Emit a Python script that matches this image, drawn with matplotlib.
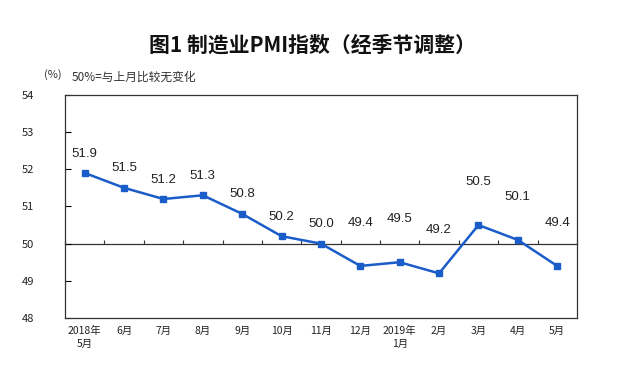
import matplotlib.pyplot as plt
import numpy as np

plt.rcParams['font.family'] = ['Noto Sans CJK SC', 'DejaVu Sans']

# 数据
months = ["2018年\n5月", "6月", "7月", "8月", "9月", "10月", "11月",
          "12月", "2019年\n1月", "2月", "3月", "4月", "5月"]
pmi = [51.9, 51.5, 51.2, 51.3, 50.8, 50.2, 50.0,
       49.4, 49.5, 49.2, 50.5, 50.1, 49.4]
y_ticks = [48, 49, 50, 51, 52, 53, 54]

line_color = "#1a5cc8"

fig = plt.figure(figsize=(6.25, 3.75), dpi=100)
ax = fig.add_axes([0.104, 0.152, 0.819, 0.595])

x = np.arange(len(months))
ax.plot(x, pmi, color=line_color, linewidth=1.8, marker="s", markersize=5,
        zorder=3)

# 数据标签
for i, v in enumerate(pmi):
    off = 14 if i < 7 else 31
    ax.annotate(f"{v:.1f}", (i, v), xytext=(0, off), textcoords="offset points",
                ha="center", va="center", fontsize=9.5, color="#222222",
                family=["Liberation Sans", "DejaVu Sans"])

ax.set_xlim(-0.5, len(months) - 0.5)
ax.set_ylim(48, 54)
ax.set_yticks(y_ticks)
ax.set_yticklabels([str(t) for t in y_ticks], fontsize=8, color="#222222")
ax.tick_params(axis="y", direction="in", length=4, pad=22, width=0.8)
ax.set_xticks(x)
ax.set_xticklabels(months, fontsize=7.5, color="#222222", linespacing=1.3)
ax.tick_params(axis="x", length=0, pad=6)
for s in ax.spines.values():
    s.set_linewidth(0.9)
    s.set_color("#333333")

# 50 基准线
sec = ax.secondary_xaxis((50 - 48) / 6)
sec.set_xticks(np.arange(len(months) + 1) - 0.5)
sec.set_xticklabels([])
sec.tick_params(direction="in", length=3, width=0.8, colors="#333333")
sec.spines["bottom"].set_linewidth(0.9)
sec.spines["bottom"].set_color("#333333")

fig.text(0.5, 0.88, "图1 制造业PMI指数（经季节调整）", ha="center", va="center",
         fontsize=15, fontweight="bold", color="#111111")
fig.text(0.07, 0.80, "(%)", ha="left", va="center", fontsize=8, color="#333333")
fig.text(0.114, 0.793, "50%=与上月比较无变化", ha="left", va="center", fontsize=8.5,
         color="#333333")

fig.savefig("out.png", dpi=100)
